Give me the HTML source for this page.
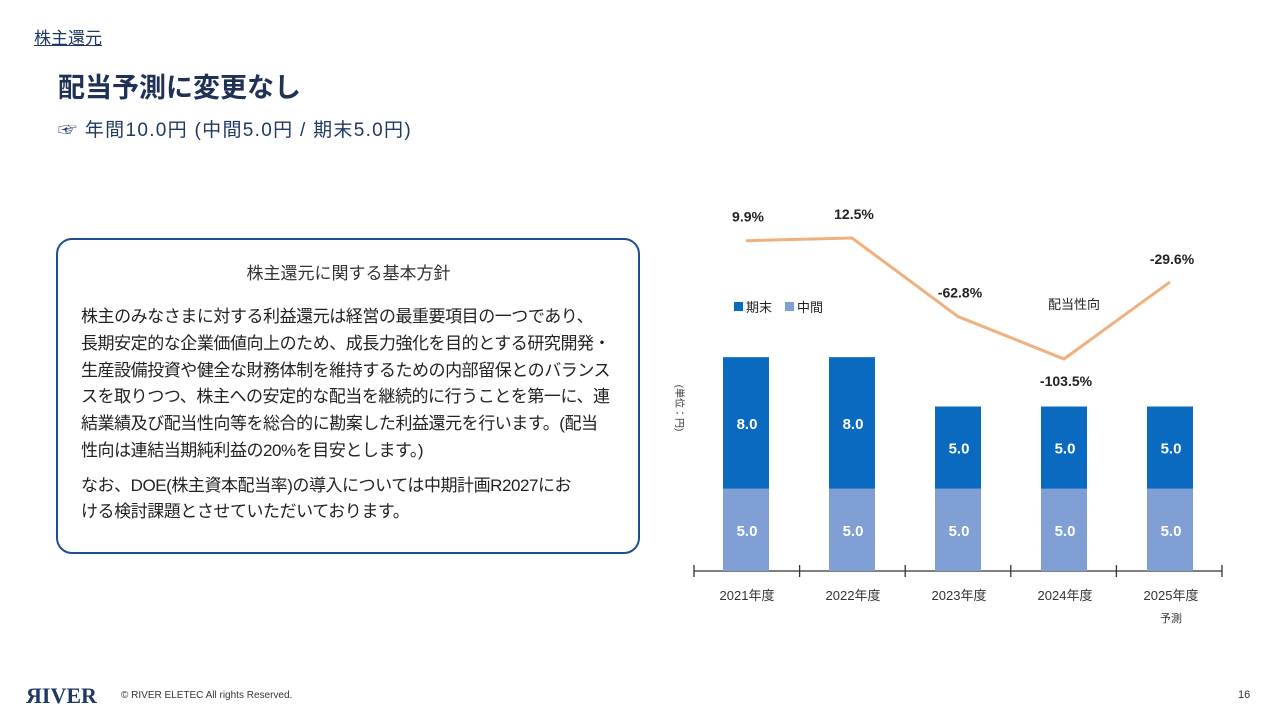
<!DOCTYPE html>
<html><head><meta charset="utf-8"><style>
body{margin:0;width:1280px;height:720px;background:#fff;position:relative;overflow:hidden;font-family:"Liberation Sans","Noto Sans CJK JP",sans-serif;color:#222}
.a{position:absolute;white-space:nowrap}
</style></head><body>
<div class="a" style="left:34px;top:24px;font-size:17px;color:#1f3864;text-decoration:underline">株主還元</div>
<div class="a" style="left:58px;top:66px;font-size:27px;font-weight:bold;color:#1f3256">配当予測に変更なし</div>
<div class="a" style="left:58px;top:115px;font-size:19px;letter-spacing:1.3px;color:#1f3864">☞ 年間10.0円 (中間5.0円 / 期末5.0円)</div>
<div class="a" style="left:56px;top:238px;width:580px;height:312px;border:2.5px solid #1f4e8c;border-radius:16px"></div>
<div class="a" style="left:56px;top:259px;width:585px;text-align:center;font-size:17px;color:#333">株主還元に関する基本方針</div>
<div class="a" style="left:81px;top:304px;font-size:17px;letter-spacing:-0.45px;line-height:26.8px;color:#222;white-space:nowrap;width:560px">株主のみなさまに対する利益還元は経営の最重要項目の一つであり、<br>長期安定的な企業価値向上のため、成長力強化を目的とする研究開発・<br>生産設備投資や健全な財務体制を維持するための内部留保とのバランス<br>スを取りつつ、株主への安定的な配当を継続的に行うことを第一に、連<br>結業績及び配当性向等を総合的に勘案した利益還元を行います。(配当<br>性向は連結当期純利益の20%を目安とします。)<div style="height:8px"></div><div style="line-height:26px">なお、DOE(株主資本配当率)の導入については中期計画R2027にお<br>ける検討課題とさせていただいております。</div></div>
<svg class="a" style="left:0;top:0" width="1280" height="720">
<g id="g"></g></svg>
<div class="a" style="left:26px;top:683px;font-size:22px;font-weight:bold;font-family:'Liberation Serif',serif;color:#1f3864">ЯIVER</div>
<div class="a" style="left:121px;top:690px;font-size:10px;color:#333">© RIVER ELETEC All rights Reserved.</div>
<div class="a" style="left:1238px;top:689px;font-size:11px;color:#333">16</div>
<script>
const categories=["2021年度","2022年度","2023年度","2024年度","2025年度"];
const interim=[5.0,5.0,5.0,5.0,5.0];
const yearEnd=[8.0,8.0,5.0,5.0,5.0];
const payout=[9.9,12.5,-62.8,-103.5,-29.6];
const payoutLabels=["9.9%","12.5%","-62.8%","-103.5%","-29.6%"];
const NS="http://www.w3.org/2000/svg",g=document.getElementById('g');
const x=i=>746+i*106, y=v=>571-v*16.45, py=v=>238+(12.5-v)*1.043;
function mk(t,a,txt){const e=document.createElementNS(NS,t);for(const k in a)e.setAttribute(k,a[k]);if(txt!=null)e.textContent=txt;g.appendChild(e);return e;}
let e=mk('line',{x1:694,x2:1222,y1:571,y2:571,stroke:'#333','stroke-width':1.3});


for(let i=0;i<=5;i++){e=mk('line',{x1:694+i*105.6,x2:694+i*105.6,y1:565,y2:577,stroke:'#333','stroke-width':1.3});

}
categories.forEach((c,i)=>{
 const cx=x(i);
 e=mk('rect',{x:cx-23,width:46,y:y(interim[i]),height:571-y(interim[i]),fill:'#7f9fd5'});
 
 
 e=mk('rect',{x:cx-23,width:46,y:y(interim[i]+yearEnd[i]),height:y(interim[i])-y(interim[i]+yearEnd[i]),fill:'#0a6abf'});
 
 
 e=mk('text',{x:cx+1,y:(y(interim[i])+571)/2+6,'text-anchor':'middle','font-size':15,'font-weight':'bold',fill:'#fff'},interim[i].toFixed(1));
 
 
 e=mk('text',{x:cx+1,y:(y(interim[i])+y(interim[i]+yearEnd[i]))/2+6,'text-anchor':'middle','font-size':15,'font-weight':'bold',fill:'#fff'},yearEnd[i].toFixed(1));
 
 
 e=mk('text',{x:cx+1,y:600,'text-anchor':'middle','font-size':13,fill:'#333'},c);
 
 
});
e=mk('text',{x:x(4)+1,y:622,'text-anchor':'middle','font-size':11,fill:'#333'},'予測');


e=mk('polyline',{points:payout.map((v,i)=>x(i)+','+py(v)).join(' '),fill:'none',stroke:'#f0b07e','stroke-width':3});


const off=[-19,-19,-19,21,-18];
payout.forEach((v,i)=>{e=mk('text',{x:x(i)+2,y:py(v)+off[i]+(off[i]>0?6:0),'text-anchor':'middle','font-size':14,'font-weight':'bold',fill:'#222'},payoutLabels[i]);
 
 });
e=mk('text',{x:1048,y:309,'font-size':13,fill:'#222'},'配当性向');


e=mk('rect',{x:734,y:302,width:9,height:9,fill:'#0a6abf'});


e=mk('text',{x:746,y:312,'font-size':13,fill:'#222'},'期末');


e=mk('rect',{x:785,y:302,width:9,height:9,fill:'#7f9fd5'});


e=mk('text',{x:797,y:312,'font-size':13,fill:'#222'},'中間');


e=mk('text',{x:0,y:0,'font-size':10,fill:'#333',transform:'translate(676,408) rotate(90)','text-anchor':'middle'},'(単位：円)');


</script>
</body></html>
